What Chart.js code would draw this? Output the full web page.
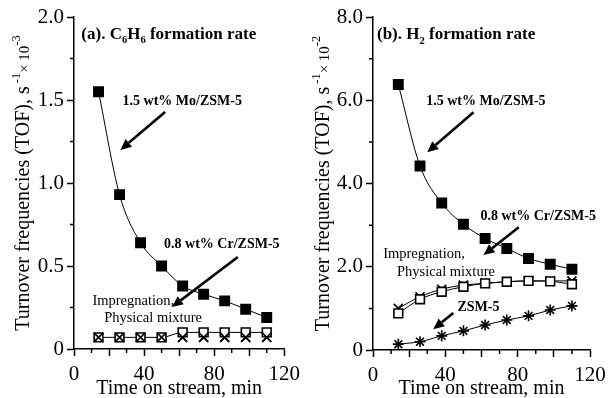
<!DOCTYPE html>
<html>
<head>
<meta charset="utf-8">
<script src="https://cdn.jsdelivr.net/npm/chart.js@4.4.0/dist/chart.umd.min.js"></script>
<style>
  body { margin: 0; background: #fff; }
  #wrap { display: flex; width: 612px; height: 398px; }
  .box { position: relative; width: 306px; height: 398px; }
</style>
</head>
<body>
<div id="wrap">
  <div class="box"><canvas id="chartA" width="306" height="398"></canvas></div>
  <div class="box"><canvas id="chartB" width="306" height="398"></canvas></div>
</div>
<script>
// time on stream, min
const times = [14, 26, 38, 50, 62, 74, 86, 98, 110];

// (a) C6H6 formation rate, TOF x 10^-3
const moC6H6 = [1.55, 0.93, 0.64, 0.50, 0.38, 0.33, 0.29, 0.24, 0.19];
const impC6H6 = [0.07, 0.07, 0.07, 0.07, 0.10, 0.10, 0.10, 0.10, 0.10];
const physC6H6 = [0.07, 0.07, 0.07, 0.07, 0.07, 0.07, 0.07, 0.07, 0.07];

// (b) H2 formation rate, TOF x 10^-2
const moH2 = [6.38, 4.42, 3.53, 3.02, 2.68, 2.44, 2.20, 2.06, 1.94];
const impH2 = [0.88, 1.22, 1.40, 1.52, 1.60, 1.64, 1.66, 1.65, 1.58];
const physH2 = [1.00, 1.28, 1.46, 1.56, 1.60, 1.64, 1.66, 1.66, 1.66];
const zsmH2 = [0.14, 0.20, 0.34, 0.46, 0.60, 0.72, 0.82, 0.96, 1.06];

// tick labels
const xLabels = [0, 40, 80, 120];
const yLabelsA = {0: '0', 0.5: '0.5', 1: '1.0', 1.5: '1.5', 2: '2.0'};
const yLabelsB = {0: '0', 2: '2.0', 4: '4.0', 6: '6.0', 8: '8.0'};
const minorX = [10, 30, 50, 70, 90, 110];
const minorYA = [0.25, 0.75, 1.25, 1.75];
const minorYB = [1, 3, 5, 7];

const SERIF = '"Liberation Serif", "Times New Roman", serif';

function partFont(kind, size, bold) {
  let s = size;
  if (kind === 1 || kind === 2) s = size * 0.62;
  if (kind === 3) s = size * 0.75;
  return (bold ? 'bold ' : '') + s + 'px ' + SERIF;
}

function richWidth(ctx, parts, size, bold) {
  let w = 0;
  for (const p of parts) { ctx.font = partFont(p[1], size, bold); w += ctx.measureText(p[0]).width; }
  return w;
}

// draws text with sub/superscripts, left aligned, y = vertical middle
function drawRich(ctx, x, y, parts, size, bold) {
  const base = y + size * 0.34;
  ctx.textBaseline = 'alphabetic';
  ctx.textAlign = 'left';
  for (const p of parts) {
    ctx.font = partFont(p[1], size, bold);
    let dy = 0;
    if (p[1] === 1) dy = size * 0.28;
    if (p[1] === 2) dy = -size * 0.42;
    ctx.fillText(p[0], x, base + dy);
    x += ctx.measureText(p[0]).width;
  }
}

function arrow(ctx, x1, y1, x2, y2) {
  const ang = Math.atan2(y2 - y1, x2 - x1);
  const hl = 11, hw = 5;
  const bx = x2 - Math.cos(ang) * hl, by = y2 - Math.sin(ang) * hl;
  ctx.lineWidth = 2.6;
  ctx.beginPath();
  ctx.moveTo(x1, y1);
  ctx.lineTo(bx, by);
  ctx.stroke();
  ctx.beginPath();
  ctx.moveTo(x2, y2);
  ctx.lineTo(bx + Math.sin(ang) * hw, by - Math.cos(ang) * hw);
  ctx.lineTo(bx - Math.sin(ang) * hw, by + Math.cos(ang) * hw);
  ctx.closePath();
  ctx.fill();
}

const notes = {
  id: 'notes',
  afterDraw(chart, args, opts) {
    const {ctx, chartArea} = chart;
    const x = chart.scales.x, y = chart.scales.y;
    ctx.save();
    ctx.fillStyle = '#000';
    ctx.strokeStyle = '#000';
    // short minor ticks
    ctx.lineWidth = 1.5;
    ctx.beginPath();
    for (const v of opts.minorX) {
      const px = x.getPixelForValue(v);
      ctx.moveTo(px, chartArea.bottom);
      ctx.lineTo(px, chartArea.bottom + 4);
    }
    for (const v of opts.minorY) {
      const py = y.getPixelForValue(v);
      ctx.moveTo(chartArea.left, py);
      ctx.lineTo(chartArea.left - 4, py);
    }
    ctx.stroke();

    for (const n of opts.labels) {
      drawRich(ctx, x.getPixelForValue(n.x), y.getPixelForValue(n.y), n.parts, n.size, n.bold);
    }
    ctx.lineCap = 'butt';
    for (const a of opts.arrows) {
      arrow(ctx, x.getPixelForValue(a[0]), y.getPixelForValue(a[1]), x.getPixelForValue(a[2]), y.getPixelForValue(a[3]));
    }

    // rotated y title
    ctx.translate(opts.yTitleX, (chartArea.top + chartArea.bottom) / 2);
    ctx.rotate(-Math.PI / 2);
    const w = richWidth(ctx, opts.yTitle, 20, false);
    drawRich(ctx, -w / 2, 0, opts.yTitle, 20, false);
    ctx.restore();
  }
};

function makeChart(id, sets, yMax, yStep, yLabels, yWidth, padRight, xHeight, note) {
  return new Chart(document.getElementById(id), {
    type: 'line',
    data: { labels: times, datasets: sets },
    plugins: [notes],
    options: {
      responsive: false,
      animation: false,
      layout: { padding: { left: 0, top: 17, right: padRight, bottom: 0 } },
      plugins: { legend: { display: false }, tooltip: { enabled: false }, notes: note },
      scales: {
        x: {
          type: 'linear', min: 0, max: 120,
          afterFit: s => { s.height = xHeight; },
          border: { color: '#000', width: 1.5 },
          grid: { drawOnChartArea: false, tickLength: 7, tickColor: '#000', tickWidth: 1.5 },
          ticks: {
            stepSize: 20, autoSkip: false, maxRotation: 0, padding: 6,
            color: '#000', font: { family: SERIF, size: 21 },
            callback: v => xLabels.includes(v) ? String(v) : ''
          },
          title: { display: true, text: 'Time on stream, min', color: '#000', padding: { top: 0, bottom: -3 },
                   font: { family: SERIF, size: 20 } }
        },
        y: {
          min: 0, max: yMax,
          afterFit: s => { s.width = yWidth; },
          border: { color: '#000', width: 1.5 },
          grid: { drawOnChartArea: false, tickLength: 7, tickColor: '#000', tickWidth: 1.5 },
          ticks: {
            stepSize: yStep, padding: 3, color: '#000', font: { family: SERIF, size: 21 },
            callback: v => yLabels[v] !== undefined ? yLabels[v] : ''
          }
        }
      }
    }
  });
}

function series(data, style, radius, fill, line) {
  return {
    data: data,
    borderColor: '#000',
    borderWidth: 1,
    showLine: line,
    cubicInterpolationMode: 'monotone',
    pointStyle: style,
    pointRadius: radius,
    pointBorderColor: '#000',
    pointBorderWidth: 1.6,
    pointBackgroundColor: fill ? '#000' : '#fff'
  };
}

const bold = true;
makeChart('chartA', [
  series(physC6H6, 'crossRot', 6.4, false, false),
  series(impC6H6, 'rect', 6.2, false, true),
  series(physC6H6, 'crossRot', 6.4, false, false),
  series(moC6H6, 'rect', 6.6, true, true)
], 2, 0.5, yLabelsA, 74, 15, 49, {
  yTitleX: 22, minorX: minorX, minorY: minorYA,
  yTitle: [['Turnover frequencies (TOF), s', 0], [' -1', 2], ['\u00d7 10', 3], ['-3', 2]],
  labels: [
    { x: 4.2, y: 1.905, size: 17, bold, parts: [['(a). C', 0], ['6', 1], ['H', 0], ['6', 1], [' formation rate', 0]] },
    { x: 27.7, y: 1.50, size: 14, bold, parts: [['1.5 wt% Mo/ZSM-5', 0]] },
    { x: 51.4, y: 0.64, size: 14, bold, parts: [['0.8 wt% Cr/ZSM-5', 0]] },
    { x: 10.5, y: 0.295, size: 14.5, bold: false, parts: [['Impregnation,', 0]] },
    { x: 17.2, y: 0.19, size: 14.5, bold: false, parts: [['Physical mixture', 0]] }
  ],
  arrows: [[52, 1.428, 26.5, 1.199], [93.5, 0.554, 55.9, 0.253]]
});

makeChart('chartB', [
  series(zsmH2, 'star', 5.5, false, true),
  series(impH2, 'rect', 6.2, false, true),
  series(physH2, 'crossRot', 6.4, false, true),
  series(moH2, 'rect', 6.6, true, true)
], 8, 2, yLabelsB, 67, 22, 48, {
  yTitleX: 16, minorX: minorX, minorY: minorYB,
  yTitle: [['Turnover frequencies (TOF), s', 0], [' -1', 2], ['\u00d7 10', 3], ['-2', 2]],
  labels: [
    { x: 2.2, y: 7.61, size: 17, bold, parts: [['(b). H', 0], ['2', 1], [' formation rate', 0]] },
    { x: 29.4, y: 6.0, size: 14, bold, parts: [['1.5 wt% Mo/ZSM-5', 0]] },
    { x: 59.4, y: 3.24, size: 14, bold, parts: [['0.8 wt% Cr/ZSM-5', 0]] },
    { x: 5.6, y: 2.33, size: 14.5, bold: false, parts: [['Impregnation,', 0]] },
    { x: 13.3, y: 1.90, size: 14.5, bold: false, parts: [['Physical mixture', 0]] },
    { x: 46.7, y: 1.04, size: 14, bold, parts: [['ZSM-5', 0]] }
  ],
  arrows: [[55.6, 5.71, 30, 4.75], [80.6, 2.95, 61.1, 2.28], [44.4, 0.89, 33.3, 0.50]]
});
</script>
</body>
</html>
